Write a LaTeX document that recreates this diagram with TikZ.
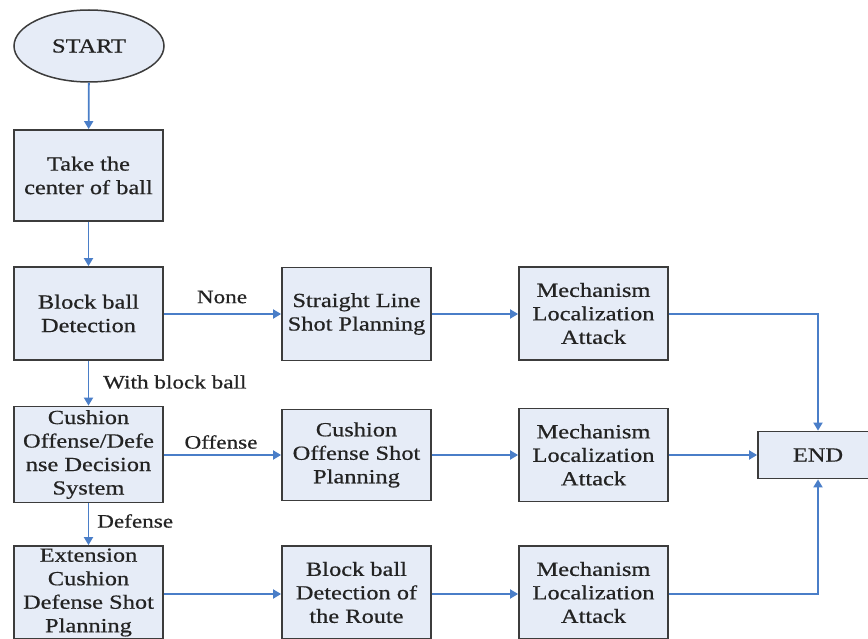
\documentclass[tikz,border=0pt]{standalone}
\usepackage{fontspec}
\setmainfont[FakeStretch=1.22,FakeBold=0.6]{Liberation Serif}
\usetikzlibrary{shapes.geometric,arrows.meta}
\definecolor{boxfill}{RGB}{230,236,247}
\definecolor{boxline}{RGB}{60,60,60}
\definecolor{arr}{RGB}{74,126,200}
\definecolor{txt}{RGB}{35,35,35}
\tikzset{
  stepbox/.style={draw=boxline, line width=1.8pt, fill=boxfill, text=txt,
    minimum width=149pt, align=center, inner sep=2pt,
    font=\fontsize{20}{23.5}\selectfont},
  startshape/.style={ellipse, draw=boxline, line width=1.5pt, fill=boxfill, text=txt,
    minimum width=150pt, minimum height=72pt, font=\fontsize{20}{23.5}\selectfont},
  flow/.style={draw=arr, line width=1.8pt, -{Triangle[length=8pt,width=9pt]}},
  lbl/.style={text=txt, font=\fontsize{19}{22}\selectfont, inner sep=0pt}
}
\begin{document}
\begin{tikzpicture}[x=1pt,y=-1pt]
\useasboundingbox (0,0) rectangle (868,639);
\node[startshape] (start) at (89,46) {START};
\node[stepbox, minimum height=91pt] (take) at (88.5,175.5) {Take the\\center of ball};
\node[stepbox, minimum height=93pt] (block) at (88.5,313.5) {Block ball\\Detection};
\node[stepbox, minimum height=96pt] (cush) at (88.5,454.5) {Cushion\\Offense/Defe\\nse Decision\\System};
\node[stepbox, minimum height=93pt] (ext) at (88.5,592.5) {Extension\\Cushion\\Defense Shot\\Planning};
\node[stepbox, minimum height=93pt] (straight) at (356.5,314) {Straight Line\\Shot Planning};
\node[stepbox, minimum height=91pt] (coff) at (356.5,455) {Cushion\\Offense Shot\\Planning};
\node[stepbox, minimum height=93pt] (route) at (356.5,592.5) {Block ball\\Detection of\\the Route};
\node[stepbox, minimum height=93pt] (mech1) at (593.5,313.5) {Mechanism\\Localization\\Attack};
\node[stepbox, minimum height=93pt] (mech2) at (593.5,455) {Mechanism\\Localization\\Attack};
\node[stepbox, minimum height=93pt] (mech3) at (593.5,592.5) {Mechanism\\Localization\\Attack};
\node[stepbox, minimum width=120pt, minimum height=47pt] (end) at (818,455) {END};
\coordinate (c1) at (818,314);
\coordinate (c3) at (818,594);
\draw[flow] (start) -- (take);
\draw[flow] (take) -- (block);
\draw[flow] (block) -- (cush);
\draw[flow] (cush) -- (ext);
\draw[flow] (block.east |- straight) -- (straight.west);
\draw[flow] (cush.east |- coff) -- (coff.west);
\draw[flow] (ext.east |- 0,594) -- (route.west |- 0,594);
\draw[flow] (straight.east |- 0,314) -- (mech1.west |- 0,314);
\draw[flow] (coff.east |- 0,455) -- (mech2.west |- 0,455);
\draw[flow] (route.east |- 0,594) -- (mech3.west |- 0,594);
\draw[flow] (mech1.east |- c1) -- (c1) -- (end.north);
\draw[flow] (mech2.east |- end) -- (end.west);
\draw[flow] (mech3.east |- c3) -- (c3) -- (end.south);
\node[lbl] (lnone) at (222,297) {None};
\node[lbl, anchor=west] (lwith) at (103,382) {With block ball};
\node[lbl] (loff) at (221,442) {Offense};
\node[lbl, anchor=west] (ldef) at (97,521) {Defense};
\end{tikzpicture}
\end{document}
